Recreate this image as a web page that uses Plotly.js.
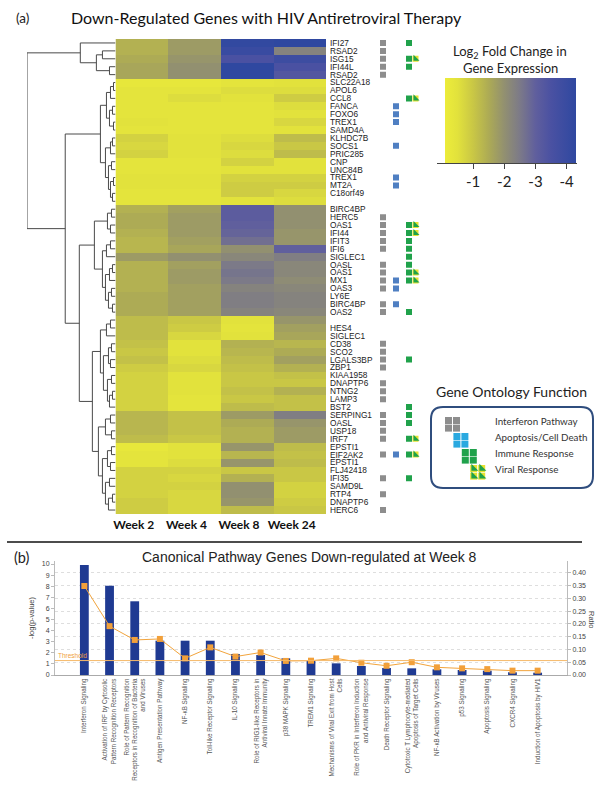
<!DOCTYPE html>
<html><head><meta charset="utf-8">
<script src="https://cdn.plot.ly/plotly-3.0.1.min.js"></script>
<style>html,body{margin:0;padding:0;background:#fff}#chart{width:602px;height:793px}</style>
</head><body><div id="chart"></div>
<script>
// ---------------- DATA: panel (a) ----------------
const weeks = ['Week 2', 'Week 4', 'Week 8', 'Week 24'];
const genes = ['IFI27','RSAD2','ISG15','IFI44L','RSAD2','SLC22A18','APOL6','CCL8','FANCA','FOXO6',
  'TREX1','SAMD4A','KLHDC7B','SOCS1','PRIC285','CNP','UNC84B','TREX1','MT2A','C18orf49',
  '','BIRC4BP','HERC5','OAS1','IFI44','IFIT3','IFI6','SIGLEC1','OASL','OAS1',
  'MX1','OAS3','LY6E','BIRC4BP','OAS2','','HES4','SIGLEC1','CD38','SCO2',
  'LGALS3BP','ZBP1','KIAA1958','DNAPTP6','NTNG2','LAMP3','BST2','SERPING1','OASL','USP18',
  'IRF7','EPSTI1','EIF2AK2','EPSTI1','FLJ42418','IFI35','SAMD9L','RTP4','DNAPTP6','HERC6'];
// log2 fold change per week (row order as drawn)
const week2 = [-1.4,-1.4,-1.5,-1.6,-1.6,-0.3,-0.4,-0.4,-0.4,-0.4,
  -0.5,-0.4,-0.8,-0.7,-0.8,-0.4,-0.4,-0.5,-0.5,-0.4,
  -0.4,-1.4,-1.5,-1.5,-1.4,-1.3,-1.3,-1.8,-1.4,-1.4,
  -1.4,-1.4,-1.5,-1.5,-1.5,-1.2,-1.2,-1.2,-1.1,-1.0,
  -1.1,-0.9,-0.8,-0.8,-0.8,-0.8,-0.8,-1.3,-1.3,-1.3,
  -1.2,-0.3,-0.4,-0.4,-0.8,-0.8,-0.8,-0.8,-0.9,-0.9];
const week4 = [-1.8,-1.8,-1.9,-2.0,-2.0,-0.3,-0.4,-0.6,-0.4,-0.4,
  -0.4,-0.4,-0.5,-0.5,-0.5,-0.4,-0.4,-0.5,-0.5,-0.4,
  -0.4,-1.7,-1.8,-1.8,-1.8,-1.7,-1.6,-2.0,-1.7,-1.8,
  -1.8,-1.7,-1.7,-1.7,-1.7,-1.0,-0.9,-0.7,-0.5,-0.5,
  -0.6,-0.7,-0.5,-0.5,-0.5,-0.4,-0.4,-1.1,-1.1,-1.1,
  -1.0,-0.5,-0.5,-0.6,-0.8,-0.7,-0.8,-0.7,-0.7,-0.7];
const week8 = [-4.2,-4.0,-3.5,-4.3,-4.3,-0.4,-0.6,-0.5,-0.4,-0.4,
  -0.4,-0.4,-0.6,-0.7,-0.6,-0.8,-0.5,-0.8,-0.9,-0.9,
  -0.5,-3.1,-3.1,-3.0,-2.9,-2.7,-2.0,-2.2,-2.5,-2.6,
  -2.5,-2.3,-2.4,-2.4,-2.3,-0.5,-0.4,-0.5,-1.4,-1.3,
  -1.2,-1.1,-1.0,-1.0,-1.1,-1.0,-1.2,-1.8,-1.5,-1.4,
  -1.4,-1.9,-1.3,-1.9,-1.0,-1.4,-2.0,-2.0,-1.9,-1.2];
const week24 = [-4.3,-2.3,-3.9,-3.5,-3.3,-0.5,-0.6,-0.9,-0.6,-0.5,
  -0.7,-0.5,-1.2,-1.0,-1.2,-0.5,-0.5,-0.8,-0.9,-0.7,
  -0.6,-2.0,-2.0,-2.0,-1.9,-1.9,-3.0,-2.4,-2.2,-2.2,
  -2.1,-2.2,-2.3,-2.3,-2.2,-1.9,-1.7,-1.6,-1.3,-1.5,
  -1.7,-1.4,-1.1,-1.0,-1.4,-1.1,-1.1,-2.4,-1.9,-1.8,
  -1.8,-1.2,-1.1,-1.2,-1.0,-1.0,-0.8,-0.8,-0.9,-1.0];
// gene ontology membership (row indices)
const interferonRows = [0,1,2,3,4,22,23,24,25,26,28,29,30,31,33,34,38,39,40,41,43,44,45,47,48,49,50,52,55,57,59];
const apoptosisRows  = [8,9,10,13,17,18,30,31,33,52];
const immuneRows     = [0,2,3,7,23,24,25,26,27,28,29,30,34,40,46,47,48,50,52,55];
const viralRows      = [2,7,23,24,29,30,50,52];
const goNames = ['Interferon Pathway', 'Apoptosis/Cell Death', 'Immune Response', 'Viral Response'];
// row dendrogram: [height, left, right], leaves = row index
const dendroTree = [88,
  [35, 0, [19, [13, 1, 2], [6, 3, 4]]],
  [50,
    [15,
      [9, [5, [2, 5, 6], 7], [6, [3, 8, 9], [2, 10, 11]]],
      [10, [5, [3, 12, 13], 14], [7, [4, 15, 16], [5, [2, 17, 18], [3, 19, 20]]]]],
    [36,
      [21, [8, [4, 21, 22], [5, 23, 24]],
           [13, [9, [5, 25, 26], 27], [10, [6, [3, 28, 29], 30], [7, [4, 31, 32], [3, 33, 34]]]]],
      [23, [15, [9, [5, 35, 36], 37], [12, [7, [4, 38, 39], [5, 40, 41]], [8, [4, 42, 43], [6, [3, 44, 45], 46]]]],
           [17, [10, [5, 47, 48], [4, 49, 50]], [13, [8, [4, 51, 52], [5, 53, 54]], [10, [6, 55, 56], [7, [3, 57, 58], 59]]]]]]]];
const colorTicks = [-1, -2, -3, -4];

// ---------------- DATA: panel (b) ----------------
const pathways = ['Interferon Signaling',
  'Activation of IRF by Cytosolic<br>Pattern Recognition Receptors',
  'Role of Pattern Recognition<br>Receptors in Recognition of Bacteria<br>and Viruses',
  'Antigen Presentation Pathway', 'NF-κB Signaling', 'Toll-like Receptor Signaling', 'IL-10 Signaling',
  'Role of RIG1-like Receptors in<br>Antiviral Innate Immunity', 'p38 MAPK Signaling', 'TREM1 Signaling',
  'Mechanisms of Viral Exit from Host<br>Cells', 'Role of PKR in Interferon Induction<br>and Antiviral Response',
  'Death Receptor Signaling', 'Cytotoxic T Lymphocyte-mediated<br>Apoptosis of Target Cells',
  'NF-κB Activation by Viruses', 'p53 Signaling', 'Apoptosis Signaling', 'CXCR4 Signaling',
  'Induction of Apoptosis by HIV1'];
const negLogP = [9.9, 8.05, 6.64, 3.09, 3.09, 3.09, 1.89, 1.8, 1.5, 1.29, 1.05, 0.81, 0.63, 0.6, 0.51, 0.45, 0.39, 0.24, 0.21];
const ratio = [0.348, 0.191, 0.137, 0.141, 0.065, 0.108, 0.072, 0.088, 0.055, 0.056, 0.065, 0.048, 0.036, 0.050, 0.030, 0.026, 0.023, 0.017, 0.017];
const threshold = 1.3;

// ---------------- build ----------------
const W = 602, H = 793;
const PX = v => v / W, PY = v => 1 - v / H;
const rows = genes.map((g, i) => i);
const labelled = rows.filter(i => genes[i] !== '');
const z = rows.map(i => [week2[i], week4[i], week8[i], week24[i]].map(v => -v)); // magnitude of down-regulation

const GRAY = '#8d8d8d', BLUE = '#4f7fc2', GREEN = '#20a24b', YEL = '#e6e230';

// dendrogram coordinates from tree
const dx = [], dy = [];
function walk(node) {
  if (typeof node === 'number') return {y: node, h: 0};
  const a = walk(node[1]), b = walk(node[2]), h = node[0];
  dx.push(a.h, h, h, b.h, null); dy.push(a.y, a.y, b.y, b.y, null);
  return {y: (a.y + b.y) / 2, h: h};
}
walk(dendroTree);

const traces = [];
traces.push({
  type: 'heatmap', x: weeks, y: rows, z: z, xaxis: 'x', yaxis: 'y',
  zmin: 0.1, zmax: 4.3, hoverinfo: 'skip',
  colorscale: [[0, '#ecec3a'], [0.095, '#e2e23c'], [0.214, '#c9c745'], [0.333, '#adab55'],
               [0.452, '#929070'], [0.571, '#7c7a88'], [0.69, '#605f9d'], [0.81, '#4a51a2'], [1, '#2f48a0']],
  colorbar: {orientation: 'h', x: PX(510.5), xanchor: 'center', y: PY(78), yanchor: 'top',
    thickness: 85, thicknessmode: 'pixels', len: 131, lenmode: 'pixels', xpad: 0, ypad: 0,
    outlinewidth: 0, ticks: 'outside', ticklen: 6, tickcolor: '#444', tickwidth: 1,
    tickvals: colorTicks.map(v => -v), ticktext: colorTicks.map(v => String(v)),
    tickfont: {family: 'Lato', size: 15, color: '#222'}}
});
traces.push({type: 'scatter', mode: 'lines', x: dx, y: dy, xaxis: 'x2', yaxis: 'y',
  line: {color: '#4a4a4a', width: 1}, hoverinfo: 'skip', connectgaps: false});

function goTrace(rowsArr, col, color, symbol, size) {
  return {type: 'scatter', mode: 'markers', x: rowsArr.map(() => col), y: rowsArr, xaxis: 'x3', yaxis: 'y',
    marker: {symbol: symbol, size: size, color: color, line: {width: 0}}, hoverinfo: 'skip'};
}
traces.push(goTrace(interferonRows, 0, GRAY, 'square', 6));
traces.push(goTrace(apoptosisRows, 1, BLUE, 'square', 6));
traces.push(goTrace(immuneRows, 2, GREEN, 'square', 6));
traces.push(goTrace(viralRows, 2.5, YEL, 'square', 6));
traces.push(goTrace(viralRows, 2.5, GREEN, 'triangle-sw', 6.7));

// GO legend squares (2x2 clusters)
const legColors = [GRAY, '#2aa9e0', GREEN, YEL];
goNames.forEach((name, i) => {
  const cx = 448.5 + 8.4 * i, cy = 420.5 + 16 * i;
  const xs = [cx, cx + 8, cx, cx + 8], ys = [cy, cy, cy + 7.6, cy + 7.6];
  traces.push({type: 'scatter', mode: 'markers', x: xs, y: ys, xaxis: 'x4', yaxis: 'y4', hoverinfo: 'skip',
    marker: {symbol: 'square', size: 7, color: legColors[i], line: {width: 0}}});
  if (i === 3) traces.push({type: 'scatter', mode: 'markers', x: xs, y: ys, xaxis: 'x4', yaxis: 'y4', hoverinfo: 'skip',
    marker: {symbol: 'triangle-sw', size: 7.8, color: GREEN, line: {width: 0}}});
});

// panel (b)
traces.push({type: 'bar', x: pathways, y: negLogP, xaxis: 'x5', yaxis: 'y5', marker: {color: '#1f3a92'}, hoverinfo: 'skip'});
traces.push({type: 'scatter', mode: 'lines+markers', x: pathways, y: ratio, xaxis: 'x5', yaxis: 'y6',
  line: {color: '#f2a43c', width: 1}, marker: {symbol: 'square', size: 6, color: '#f2a03a'}, hoverinfo: 'skip'});

// rounded legend box
const bx0 = 431, bx1 = 593, by0 = 407, by1 = 488, r = 12;
const P = (x, y) => PX(x) + ',' + PY(y);
const boxPath = `M ${P(bx0 + r, by0)} L ${P(bx1 - r, by0)} Q ${P(bx1, by0)} ${P(bx1, by0 + r)} L ${P(bx1, by1 - r)} Q ${P(bx1, by1)} ${P(bx1 - r, by1)} L ${P(bx0 + r, by1)} Q ${P(bx0, by1)} ${P(bx0, by1 - r)} L ${P(bx0, by0 + r)} Q ${P(bx0, by0)} ${P(bx0 + r, by0)} Z`;

const hidden = {visible: false, fixedrange: true};
function note(text, x, y, size, extra) {
  return Object.assign({text: text, x: PX(x), y: PY(y), xref: 'paper', yref: 'paper', xanchor: 'center', yanchor: 'middle',
    showarrow: false, font: {family: 'Lato', size: size, color: '#222'}}, extra || {});
}
const layout = {
  width: W, height: H, margin: {l: 0, r: 0, t: 0, b: 0}, showlegend: false,
  paper_bgcolor: '#fff', plot_bgcolor: 'rgba(0,0,0,0)',
  font: {family: 'Liberation Sans, Arial, sans-serif', color: '#222'},
  xaxis: {domain: [PX(115.5), PX(326)], anchor: 'y', side: 'bottom', showgrid: false, zeroline: false, showline: false,
    ticks: '', tickfont: {family: 'Lato', size: 12, weight: 'bold', color: '#111'}, ticklabelstandoff: 2, ticklabelshift: -8, fixedrange: true},
  yaxis: {domain: [PY(514), PY(39)], anchor: 'x', side: 'right', range: [59.5, -0.5],
    tickvals: labelled, ticktext: labelled.map(i => genes[i]),
    tickfont: {family: 'Liberation Sans', size: 8.3, color: '#222'}, ticks: '', showgrid: false, zeroline: false,
    ticklabelstandoff: 3, fixedrange: true},
  xaxis2: Object.assign({domain: [PX(27), PX(115.5)], anchor: 'y', range: [88, 0]}, hidden),
  xaxis3: Object.assign({domain: [PX(376.5), PX(422)], anchor: 'y', range: [-0.5, 3]}, hidden),
  xaxis4: Object.assign({domain: [PX(bx0), PX(bx1)], anchor: 'y4', range: [bx0, bx1]}, hidden),
  yaxis4: Object.assign({domain: [PY(by1), PY(by0)], anchor: 'x4', range: [by1, by0]}, hidden),
  xaxis5: {domain: [PX(55), PX(567)], anchor: 'y5', type: 'category', tickangle: -90, showline: true, linecolor: '#aaa',
    ticks: '', showgrid: false, tickfont: {family: 'Liberation Sans', size: 6.3, color: '#555'}, fixedrange: true},
  yaxis5: {domain: [PY(675), PY(561)], anchor: 'x5', range: [0, 10.27], dtick: 1, showline: true, linecolor: '#bbb',
    ticks: 'outside', ticklen: 3, tickcolor: '#bbb', showgrid: false, zeroline: false,
    tickfont: {family: 'Liberation Sans', size: 7, color: '#444'},
    title: {text: '-log(p-value)', font: {family: 'Liberation Sans', size: 7.5, color: '#444'}, standoff: 6}, fixedrange: true},
  yaxis6: {overlaying: 'y5', anchor: 'x5', side: 'right', range: [0, 0.4457], dtick: 0.05, tickformat: '.2f',
    showline: true, linecolor: '#bbb', ticks: 'outside', ticklen: 3, tickcolor: '#bbb', showgrid: true,
    gridcolor: '#dedede', griddash: 'dot', zeroline: false,
    tickfont: {family: 'Liberation Sans', size: 7, color: '#444'}, fixedrange: true},
  bargap: 0.65,
  shapes: [
    {type: 'line', xref: 'paper', yref: 'paper', x0: PX(7), x1: PX(582), y0: PY(542), y1: PY(542), line: {color: '#111', width: 1.5}},
    {type: 'line', xref: 'paper', yref: 'paper', x0: PX(437), x1: PX(577), y0: PY(163.5), y1: PY(163.5), line: {color: '#444', width: 1}},
    {type: 'line', xref: 'paper', yref: 'y5', x0: PX(55), x1: PX(567), y0: threshold, y1: threshold, line: {color: '#f6b969', width: 1}},
    {type: 'path', xref: 'paper', yref: 'paper', path: boxPath, line: {color: '#2f4d7e', width: 2}}
  ],
  annotations: [
    note('(a)', 22, 18, 13.5),
    note('Down-Regulated Genes with HIV Antiretroviral Therapy', 266, 17, 16, {font: {family: 'Lato', size: 16, color: '#111'}}),
    note('Log<sub>2</sub> Fold Change in', 510, 52, 13),
    note('Gene Expression', 510, 68, 13),
    note('Gene Ontology Function', 511, 392, 14),
    note('(b)', 22, 557, 14.5),
    note('Canonical Pathway Genes Down-regulated at Week 8', 309, 557, 14, {font: {family: 'Liberation Sans', size: 14, color: '#222'}}),
    {text: 'Threshold', x: PX(56), y: threshold, xref: 'paper', yref: 'y5', xanchor: 'left', yanchor: 'bottom', showarrow: false,
      font: {family: 'Liberation Sans', size: 6.5, color: '#f0a040'}},
    note('Ratio', 592, 620, 7.5, {textangle: 90, font: {family: 'Liberation Sans', size: 7.5, color: '#444'}})
  ].concat(goNames.map((name, i) => note(name, 493, 421 + 16 * i, 9.8, {xanchor: 'left', font: {family: 'Lato', size: 9.8, color: '#333'}})))
};

Plotly.newPlot('chart', traces, layout, {staticPlot: true, displayModeBar: false});
</script></body></html>
